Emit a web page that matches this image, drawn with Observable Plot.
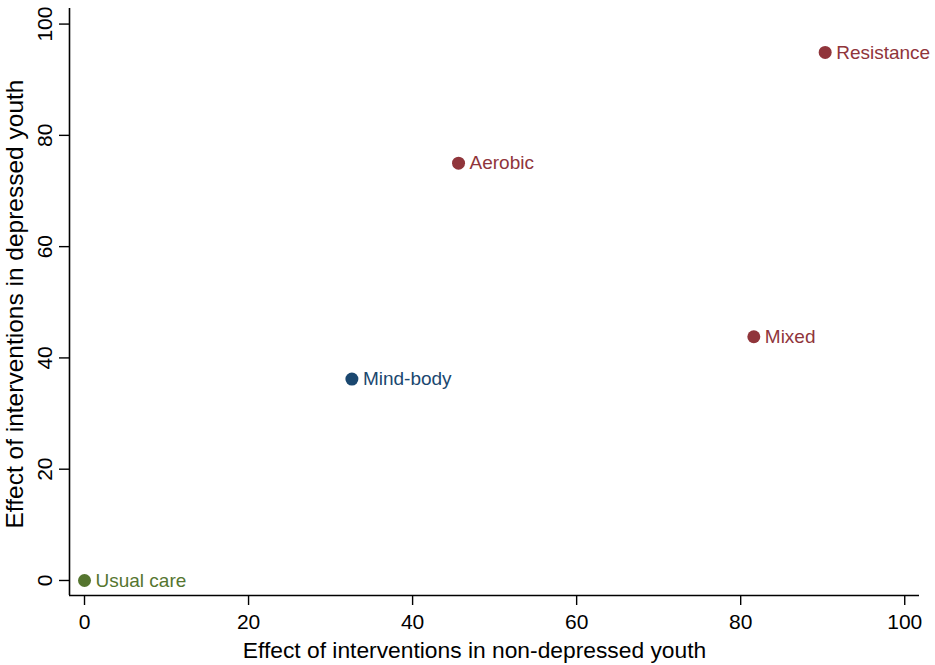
<!DOCTYPE html>
<html>
<head>
<meta charset="utf-8">
<script src="https://cdn.jsdelivr.net/npm/d3@7"></script>
<script src="https://cdn.jsdelivr.net/npm/@observablehq/plot@0.6"></script>
<style>
  html, body { margin: 0; padding: 0; background: #fff; }
  #chart svg { display: block; }
</style>
</head>
<body>
<div id="chart"></div>
<script>
const names  = ["Usual care", "Mind-body", "Aerobic", "Mixed", "Resistance"];
const xVals  = [0, 32.6, 45.6, 81.6, 90.3];
const yVals  = [0, 36.2, 75.0, 43.8, 94.9];
const groups = ["Control", "Mind-body", "Exercise", "Exercise", "Exercise"];
const groupDomain = ["Control", "Mind-body", "Exercise"];
const groupColors = ["#55752F", "#1A476F", "#90353B"];
const xTicks = [0, 20, 40, 60, 80, 100];
const yTicks = [0, 20, 40, 60, 80, 100];
const xDomain = [-1.83, 101.8];
const yDomain = [-2.7, 102.8];
const xTitle = "Effect of interventions in non-depressed youth";
const yTitle = "Effect of interventions in depressed youth";

const data = names.map((n, i) => ({name: n, x: xVals[i], y: yVals[i], group: groups[i]}));

const chart = Plot.plot({
  width: 935,
  height: 665,
  marginLeft: 69,
  marginRight: 16,
  marginTop: 8,
  marginBottom: 70,
  style: {fontFamily: "'Liberation Sans', Arial, Helvetica, sans-serif", background: "#fff", color: "#000"},
  x: {domain: xDomain},
  y: {domain: yDomain},
  color: {domain: groupDomain, range: groupColors},
  marks: [
    Plot.ruleX([xDomain[0]], {stroke: "#000", strokeWidth: 1.6}),
    Plot.ruleY([yDomain[0]], {stroke: "#000", strokeWidth: 1.6}),
    Plot.axisX({ticks: xTicks, tickSize: 10, tickPadding: 9, fontSize: 21, label: null, strokeWidth: 1.4}),
    Plot.axisY({ticks: yTicks, tickSize: 10, tickPadding: 8, tickRotate: -90, fontSize: 21, label: null, strokeWidth: 1.4}),
    Plot.dot(data, {x: "x", y: "y", fill: "group", r: 6.5}),
    Plot.text(data, {x: "x", y: "y", text: "name", fill: "group", dx: 11, textAnchor: "start", fontSize: 19}),
    Plot.text([xTitle], {text: d => d, frameAnchor: "bottom", textAnchor: "middle", dy: 62, dx: -20, fontSize: 22.8, fill: "#000"}),
    Plot.text([yTitle], {text: d => d, frameAnchor: "left", textAnchor: "middle", lineAnchor: "middle", rotate: -90, dx: -54, dy: 2, fontSize: 24.5, fill: "#000"})
  ]
});
document.getElementById("chart").appendChild(chart);
</script>
</body>
</html>
